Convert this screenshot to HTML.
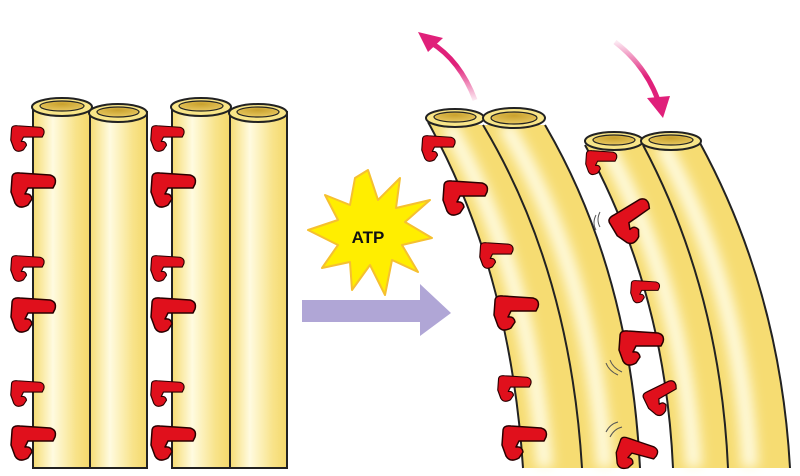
<!DOCTYPE html>
<html><head><meta charset="utf-8"><style>html,body{margin:0;padding:0;background:#fff;}svg{display:block}</style></head><body>
<svg width="800" height="476" viewBox="0 0 800 476" xmlns="http://www.w3.org/2000/svg">
<defs>
<linearGradient id="vt" x1="0" x2="1" y1="0" y2="0">
<stop offset="0" stop-color="#f6dc72"/><stop offset="0.35" stop-color="#fffbe0"/><stop offset="0.75" stop-color="#f8e38a"/><stop offset="1" stop-color="#f4d86a"/>
</linearGradient>
<radialGradient id="hole" cx="0.5" cy="0.3" r="0.7"><stop offset="0" stop-color="#c9a12e"/><stop offset="1" stop-color="#e8c860"/></radialGradient>
<filter id="bl"><feGaussianBlur stdDeviation="6"/></filter>
<linearGradient id="pk1" x1="0" y1="1" x2="0" y2="0"><stop offset="0" stop-color="#e0207a" stop-opacity="0.1"/><stop offset="0.6" stop-color="#e0207a"/></linearGradient>
<linearGradient id="pk2" x1="0" y1="0" x2="0" y2="1"><stop offset="0" stop-color="#e0207a" stop-opacity="0.1"/><stop offset="0.6" stop-color="#e0207a"/></linearGradient>
<g id="arm"><path d="M2,6 Q2,0 10,1 L40,3 Q47,5 45,12 L43,16 L18,16 L15,22 Q21,21 22,27 L18,33 Q9,38 5,31 L1,20 Z" fill="#e0101c" stroke="#2a0000" stroke-width="1.5" stroke-linejoin="round"/></g>
</defs>

<!-- vertical doublets -->
<g stroke="#222" stroke-width="2">
<rect x="33" y="107" width="57" height="361" fill="url(#vt)"/>
<rect x="90" y="112" width="57" height="356" fill="url(#vt)"/>
<rect x="172" y="107" width="58" height="361" fill="url(#vt)"/>
<rect x="230" y="112" width="57" height="356" fill="url(#vt)"/>
<ellipse cx="62" cy="107" rx="30" ry="9" fill="#f8e588"/>
<ellipse cx="118" cy="113" rx="29" ry="9" fill="#f8e588"/>
<ellipse cx="201" cy="107" rx="30" ry="9" fill="#f8e588"/>
<ellipse cx="258" cy="113" rx="29" ry="9" fill="#f8e588"/>
</g>
<g stroke="#222" stroke-width="1.2" fill="url(#hole)">
<ellipse cx="62" cy="106" rx="22" ry="5"/><ellipse cx="118" cy="112" rx="21" ry="5"/>
<ellipse cx="201" cy="106" rx="22" ry="5"/><ellipse cx="258" cy="112" rx="21" ry="5"/>
</g>
<g>
<use href="#arm" transform="translate(10,125) scale(0.75)"/>
<use href="#arm" transform="translate(10,172)"/>
<use href="#arm" transform="translate(10,255) scale(0.75)"/>
<use href="#arm" transform="translate(10,297)"/>
<use href="#arm" transform="translate(10,380) scale(0.75)"/>
<use href="#arm" transform="translate(10,425)"/>
<use href="#arm" transform="translate(150,125) scale(0.75)"/>
<use href="#arm" transform="translate(150,172)"/>
<use href="#arm" transform="translate(150,255) scale(0.75)"/>
<use href="#arm" transform="translate(150,297)"/>
<use href="#arm" transform="translate(150,380) scale(0.75)"/>
<use href="#arm" transform="translate(150,425)"/>
</g>

<!-- star & arrow -->
<polygon points="368,170 378,200 400,178 396,208 430,200 405,222 432,238 402,245 418,272 392,260 385,295 370,265 352,290 350,262 322,268 338,245 308,230 338,220 325,195 350,205 355,178" fill="#ffee00" stroke="#f5c030" stroke-width="2" stroke-linejoin="round"/>
<text x="368" y="243" text-anchor="middle" font-family="Liberation Sans, sans-serif" font-weight="bold" font-size="17" fill="#111">ATP</text>
<polygon points="302,300 420,300 420,284 451,313 420,336 420,322 302,322" fill="#b0a6d6"/>

<!-- bent doublets -->
<path d="M428,122 Q510,270 523,468 L582,468 Q570,270 483,125 Z" fill="#f6dc72"/>
<path d="M483,125 Q570,270 582,468 L640,468 Q630,270 545,125 Z" fill="#f6dc72"/>
<path d="M585,145 Q665,290 673,468 L728,468 Q720,290 643,145 Z" fill="#f6dc72"/>
<path d="M643,145 Q720,290 728,468 L790,468 Q780,290 700,143 Z" fill="#f6dc72"/>
<g fill="none" stroke="#fffbe0" stroke-width="16" filter="url(#bl)">
<path d="M448,125 Q530,270 545,468"/><path d="M505,125 Q592,270 605,468"/>
<path d="M605,145 Q684,290 694,468"/><path d="M662,145 Q742,290 750,468"/>
</g>
<g fill="none" stroke="#222" stroke-width="2">
<path d="M428,122 Q510,270 523,468"/><path d="M483,125 Q570,270 582,468"/><path d="M545,125 Q630,270 640,468"/>
<path d="M585,145 Q665,290 673,468"/><path d="M643,145 Q720,290 728,468"/><path d="M700,143 Q780,290 790,468"/>
</g>
<g stroke="#222" stroke-width="2" fill="#f8e588">
<ellipse cx="455" cy="118" rx="29" ry="9"/><ellipse cx="514" cy="118" rx="31" ry="10"/>
<ellipse cx="614" cy="141" rx="29" ry="9"/><ellipse cx="671" cy="141" rx="30" ry="9"/>
</g>
<g stroke="#222" stroke-width="1.2" fill="url(#hole)">
<ellipse cx="455" cy="117" rx="21" ry="5"/><ellipse cx="514" cy="118" rx="23" ry="6"/>
<ellipse cx="614" cy="140" rx="21" ry="5"/><ellipse cx="671" cy="140" rx="22" ry="5"/>
</g>
<g>
<use href="#arm" transform="translate(421,135) scale(0.75)"/>
<use href="#arm" transform="translate(442,180)"/>
<use href="#arm" transform="translate(479,242) scale(0.75)"/>
<use href="#arm" transform="translate(493,295)"/>
<use href="#arm" transform="translate(497,375) scale(0.75)"/>
<use href="#arm" transform="translate(501,425)"/>
<use href="#arm" transform="translate(585,150) scale(0.7)"/>
<use href="#arm" transform="translate(605,220) rotate(-35) "/>
<use href="#arm" transform="translate(630,280) scale(0.65)"/>
<use href="#arm" transform="translate(618,330)"/>
<use href="#arm" transform="translate(640,395) rotate(-30) scale(0.8)"/>
<use href="#arm" transform="translate(620,435) rotate(15) scale(0.9)"/>
</g>
<g fill="none" stroke="#555" stroke-width="1">
<path d="M596,215 q-4,8 0,15"/><path d="M600,212 q-4,8 0,15"/>
<path d="M610,360 q3,8 12,12"/><path d="M606,363 q3,8 12,12"/>
<path d="M606,432 q4,-8 12,-10"/><path d="M610,437 q4,-8 12,-10"/>
</g>

<!-- pink arrows -->
<path d="M475,100 Q460,60 430,42" fill="none" stroke="url(#pk1)" stroke-width="5"/>
<polygon points="418,32 443,38 428,52" fill="#e0207a"/>
<path d="M615,42 Q645,65 658,100" fill="none" stroke="url(#pk2)" stroke-width="5"/>
<polygon points="663,118 647,98 670,96" fill="#e0207a"/>
</svg>
</body></html>
